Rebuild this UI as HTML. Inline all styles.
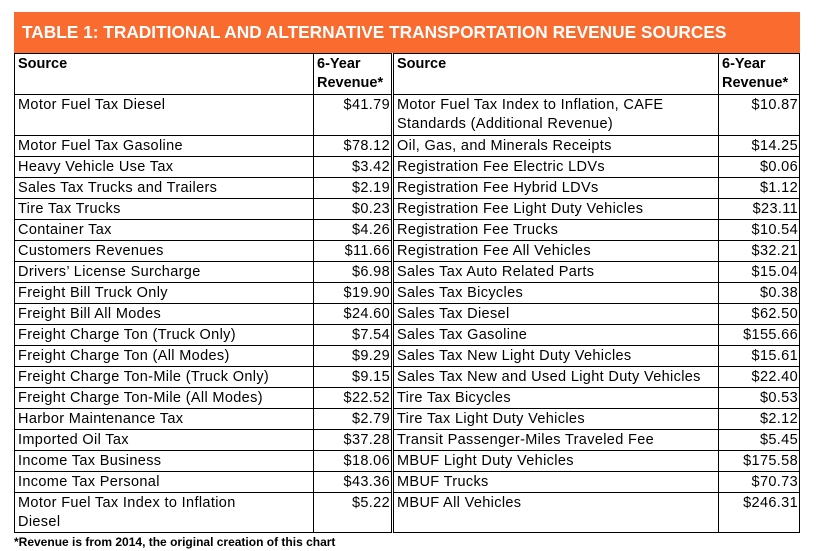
<!DOCTYPE html>
<html><head><meta charset="utf-8"><style>
body{margin:0;background:#fff;width:816px;height:551px;position:relative;font-family:"Liberation Sans",sans-serif;overflow:hidden}
.title{position:absolute;left:14px;top:12px;width:786px;height:41px;background:#f96b2e;color:#fff;font-weight:bold;font-size:17.3px;line-height:41px;padding-left:8px;box-sizing:border-box;white-space:nowrap}
table{position:absolute;top:53px;border-collapse:collapse;table-layout:fixed;font-size:14.5px;letter-spacing:0.35px}
td{border:1px solid #000;padding:1px 3px 0;vertical-align:top;line-height:19px;height:20.9px;box-sizing:border-box;white-space:nowrap;overflow:hidden}
td.v{text-align:right;padding-right:1px}
tr.h td{font-weight:bold;height:41px;padding-top:1px;line-height:19px;letter-spacing:0}
tr.d td{height:40.5px}
tr.d td.w{white-space:normal;line-height:19px}
.foot{position:absolute;left:14px;top:535px;font-size:12px;font-weight:bold}
</style></head><body>
<div class="title">TABLE 1: TRADITIONAL AND ALTERNATIVE TRANSPORTATION REVENUE SOURCES</div>
<table style="left:14px;width:377px">
<colgroup><col style="width:299px"><col style="width:78px"></colgroup>
<tr class="h"><td>Source</td><td class="v" style="text-align:left">6-Year<br>Revenue*</td></tr>
<tr class="d"><td>Motor Fuel Tax Diesel</td><td class="v">$41.79</td></tr>
<tr><td>Motor Fuel Tax Gasoline</td><td class="v">$78.12</td></tr>
<tr><td>Heavy Vehicle Use Tax</td><td class="v">$3.42</td></tr>
<tr><td>Sales Tax Trucks and Trailers</td><td class="v">$2.19</td></tr>
<tr><td>Tire Tax Trucks</td><td class="v">$0.23</td></tr>
<tr><td>Container Tax</td><td class="v">$4.26</td></tr>
<tr><td>Customers Revenues</td><td class="v">$11.66</td></tr>
<tr><td>Drivers’ License Surcharge</td><td class="v">$6.98</td></tr>
<tr><td>Freight Bill Truck Only</td><td class="v">$19.90</td></tr>
<tr><td>Freight Bill All Modes</td><td class="v">$24.60</td></tr>
<tr><td>Freight Charge Ton (Truck Only)</td><td class="v">$7.54</td></tr>
<tr><td>Freight Charge Ton (All Modes)</td><td class="v">$9.29</td></tr>
<tr><td>Freight Charge Ton-Mile (Truck Only)</td><td class="v">$9.15</td></tr>
<tr><td>Freight Charge Ton-Mile (All Modes)</td><td class="v">$22.52</td></tr>
<tr><td>Harbor Maintenance Tax</td><td class="v">$2.79</td></tr>
<tr><td>Imported Oil Tax</td><td class="v">$37.28</td></tr>
<tr><td>Income Tax Business</td><td class="v">$18.06</td></tr>
<tr><td>Income Tax Personal</td><td class="v">$43.36</td></tr>
<tr class="d"><td class="w">Motor Fuel Tax Index to Inflation<br>Diesel</td><td class="v">$5.22</td></tr>
</table>
<table style="left:393px;width:406px">
<colgroup><col style="width:325px"><col style="width:81px"></colgroup>
<tr class="h"><td>Source</td><td class="v" style="text-align:left">6-Year<br>Revenue*</td></tr>
<tr class="d"><td class="w">Motor Fuel Tax Index to Inflation, CAFE<br>Standards (Additional Revenue)</td><td class="v">$10.87</td></tr>
<tr><td>Oil, Gas, and Minerals Receipts</td><td class="v">$14.25</td></tr>
<tr><td>Registration Fee Electric LDVs</td><td class="v">$0.06</td></tr>
<tr><td>Registration Fee Hybrid LDVs</td><td class="v">$1.12</td></tr>
<tr><td>Registration Fee Light Duty Vehicles</td><td class="v">$23.11</td></tr>
<tr><td>Registration Fee Trucks</td><td class="v">$10.54</td></tr>
<tr><td>Registration Fee All Vehicles</td><td class="v">$32.21</td></tr>
<tr><td>Sales Tax Auto Related Parts</td><td class="v">$15.04</td></tr>
<tr><td>Sales Tax Bicycles</td><td class="v">$0.38</td></tr>
<tr><td>Sales Tax Diesel</td><td class="v">$62.50</td></tr>
<tr><td>Sales Tax Gasoline</td><td class="v">$155.66</td></tr>
<tr><td>Sales Tax New Light Duty Vehicles</td><td class="v">$15.61</td></tr>
<tr><td>Sales Tax New and Used Light Duty Vehicles</td><td class="v">$22.40</td></tr>
<tr><td>Tire Tax Bicycles</td><td class="v">$0.53</td></tr>
<tr><td>Tire Tax Light Duty Vehicles</td><td class="v">$2.12</td></tr>
<tr><td>Transit Passenger-Miles Traveled Fee</td><td class="v">$5.45</td></tr>
<tr><td>MBUF Light Duty Vehicles</td><td class="v">$175.58</td></tr>
<tr><td>MBUF Trucks</td><td class="v">$70.73</td></tr>
<tr class="d"><td>MBUF All Vehicles</td><td class="v">$246.31</td></tr>
</table>
<div class="foot">*Revenue is from 2014, the original creation of this chart</div>
</body></html>
